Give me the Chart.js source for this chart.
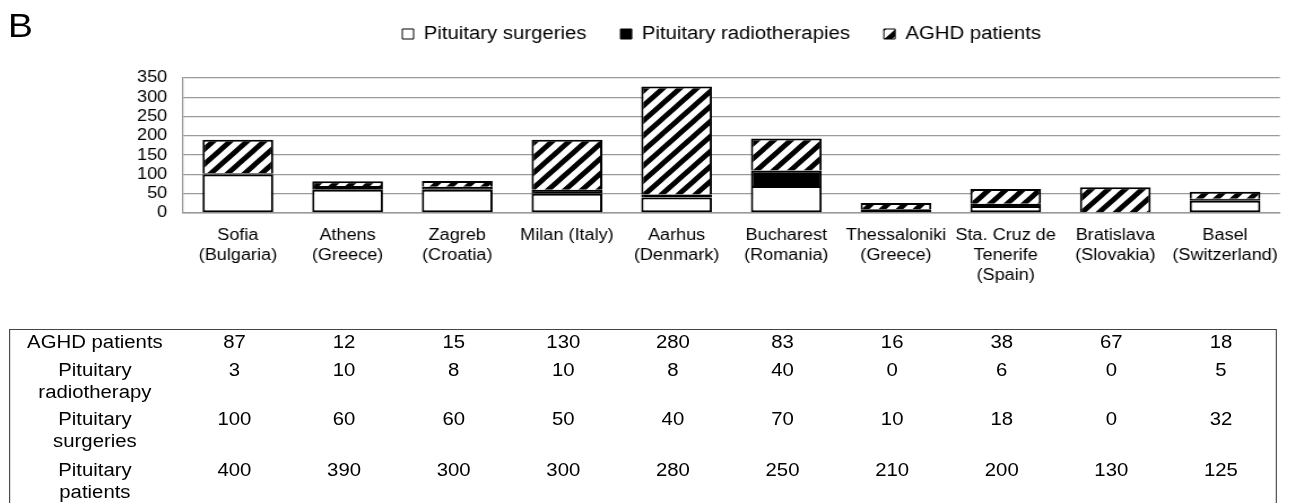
<!DOCTYPE html>
<html>
<head>
<meta charset="utf-8">
<script src="https://cdn.jsdelivr.net/npm/chart.js@4.4.0/dist/chart.umd.min.js"></script>
<style>
  html, body { margin: 0; padding: 0; background: #fff; overflow: hidden; }
  body { width: 1293px; height: 503px; }
  /* the source figure is stretched horizontally, so the whole panel is too */
  #wrap { position: relative; width: 1144px; height: 503px; transform: scaleX(1.13); transform-origin: 0 0;
          font-family: 'Liberation Sans', Arial, sans-serif; color: #000; }
  #panel { position: absolute; left: 7px; top: 9px; font-size: 33px; line-height: 1; }
  #chart { position: absolute; left: 0; top: 0; }
  #dataTable { position: absolute; left: 8px; top: 329px; width: 1122px; border: 1px solid #444;
               border-collapse: separate; border-spacing: 0; table-layout: fixed; font-size: 18px; line-height: 22px; }
  #dataTable td { padding: 1px 0 0 0; text-align: center; vertical-align: top; white-space: pre-line; }
</style>
</head>
<body>
<div id="wrap">
  <div id="panel">B</div>
  <canvas id="chart" width="1144" height="300"></canvas>
  <table id="dataTable"></table>
</div>
<script>
// data
const cities = [
  ['Sofia', '(Bulgaria)'], ['Athens', '(Greece)'], ['Zagreb', '(Croatia)'], 'Milan (Italy)',
  ['Aarhus', '(Denmark)'], ['Bucharest', '(Romania)'], ['Thessaloniki', '(Greece)'],
  ['Sta. Cruz de', 'Tenerife', '(Spain)'], ['Bratislava', '(Slovakia)'], ['Basel', '(Switzerland)']
];
const aghdPatients = [87, 12, 15, 130, 280, 83, 16, 38, 67, 18];
const radiotherapies = [3, 10, 8, 10, 8, 40, 0, 6, 0, 5];
const surgeries = [100, 60, 60, 50, 40, 70, 10, 18, 0, 32];
const pituitaryPatients = [400, 390, 300, 300, 280, 250, 210, 200, 130, 125];
const yMax = 350;
const yStep = 50;

// table rows (label, values)
const tableRows = [
  ['AGHD patients', aghdPatients],
  ['Pituitary\nradiotherapy', radiotherapies],
  ['Pituitary\nsurgeries', surgeries],
  ['Pituitary\npatients', pituitaryPatients]
];
const rowHeights = [28, 49, 51, 80];

function hatch() {
  const s = 15;
  const c = document.createElement('canvas');
  c.width = s; c.height = s;
  const g = c.getContext('2d');
  g.fillStyle = '#fff';
  g.fillRect(0, 0, s, s);
  g.strokeStyle = '#000';
  g.lineWidth = 4.8;
  g.beginPath();
  g.moveTo(-s, s); g.lineTo(s, -s);
  g.moveTo(0, s); g.lineTo(s, 0);
  g.moveTo(0, 2 * s); g.lineTo(2 * s, 0);
  g.stroke();
  return g.createPattern(c, 'repeat');
}

// build the data table under the chart
const table = document.getElementById('dataTable');
let html = '<colgroup><col style="width:150px">';
cities.forEach(() => { html += '<col style="width:97px">'; });
html += '</colgroup>';
tableRows.forEach(([label, vals], i) => {
  html += '<tr style="height:' + rowHeights[i] + 'px"><td>' + label + '</td>';
  vals.forEach(v => { html += '<td>' + v + '</td>'; });
  html += '</tr>';
});
table.innerHTML = html;

Chart.defaults.font.family = "'Liberation Sans', Arial, sans-serif";
Chart.defaults.color = '#000';

const layoutTweaks = {
  id: 'layoutTweaks',
  beforeLayout(chart) {
    const lg = chart.legend;
    if (lg && !lg._tweaked) {
      const fit = lg.fit.bind(lg);
      lg.fit = function () { fit(); this.height += 20; };
      lg._tweaked = true;
    }
  },
  afterLayout(chart) {
    const lg = chart.legend;
    const dx = 326 - lg.left;
    lg.left += dx; lg.right += dx;
    lg.top -= 5; lg.bottom -= 5;
  }
};

const gridGray = '#9a9a9a';

new Chart(document.getElementById('chart'), {
  type: 'bar',
  data: {
    labels: cities,
    datasets: [
      {
        label: 'Pituitary surgeries',
        data: surgeries,
        backgroundColor: '#fff',
        borderColor: '#000',
        borderWidth: 2,
        borderSkipped: false
      },
      {
        label: 'Pituitary radiotherapies',
        data: radiotherapies,
        backgroundColor: '#000',
        borderColor: '#000',
        borderWidth: 2,
        borderSkipped: 'start'
      },
      {
        label: 'AGHD patients',
        data: aghdPatients,
        backgroundColor: hatch(),
        borderColor: '#000',
        borderWidth: 2,
        borderSkipped: 'start'
      }
    ]
  },
  options: {
    responsive: false,
    animation: false,
    events: [],
    barPercentage: 0.645,
    categoryPercentage: 1,
    layout: { padding: { left: 0, right: 5, top: 0, bottom: 0 } },
    plugins: {
      tooltip: { enabled: false },
      legend: {
        position: 'top',
        align: 'start',
        labels: {
          boxWidth: 10,
          boxHeight: 10,
          padding: 30,
          font: { size: 18 },
          color: '#000',
          generateLabels(chart) {
            const items = Chart.defaults.plugins.legend.labels.generateLabels(chart);
            items.forEach(it => { it.lineWidth = 1; });
            return items;
          }
        }
      }
    },
    scales: {
      x: {
        stacked: true,
        grid: { display: false, drawTicks: false },
        border: { color: gridGray, width: 1.5 },
        ticks: {
          padding: 13,
          autoSkip: false,
          maxRotation: 0,
          minRotation: 0,
          font: { size: 16, lineHeight: 1.25 },
          color: '#000'
        },
        afterFit(scale) { scale.height = 87; }
      },
      y: {
        stacked: true,
        min: 0,
        max: yMax,
        grid: { color: gridGray, lineWidth: 1.3, drawTicks: false },
        border: { color: gridGray, width: 1.3 },
        ticks: { stepSize: yStep, autoSkip: false, padding: 14, font: { size: 16, lineHeight: 1 }, color: '#000' },
        afterFit(scale) { scale.width = 162; }
      }
    }
  },
  plugins: [layoutTweaks]
});
</script>
</body>
</html>
